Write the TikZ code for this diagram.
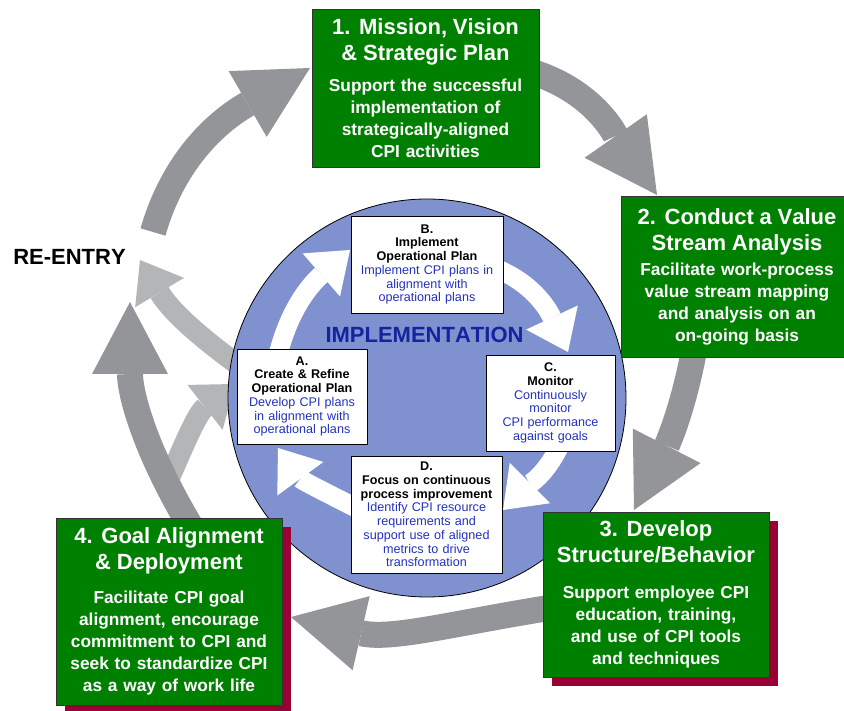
\documentclass[tikz,border=0pt]{standalone}
\usepackage{fontspec}
\setmainfont{Liberation Sans}[Kerning=Off]
\usetikzlibrary{arrows.meta, shadows}

\definecolor{boxgreen}{RGB}{0,128,0}
\definecolor{shadowred}{RGB}{153,0,51}
\definecolor{ringblue}{RGB}{128,145,208}
\definecolor{textblue}{RGB}{35,50,190}
\definecolor{implblue}{RGB}{20,35,160}
\definecolor{darkarrow}{RGB}{147,149,152}
\definecolor{lightarrow}{RGB}{180,181,183}

\newcommand{\ttlfont}{\fontsize{22}{26}\selectfont\bfseries}
\newcommand{\bdyfont}{\fontsize{17.3}{22}\selectfont\bfseries}
\newcommand{\smlfont}{\fontsize{12.6}{13.7}\selectfont}

\begin{document}
\begin{tikzpicture}[x=1pt, y=1pt,
 green box/.style={rectangle, draw=black!80, line width=0.8pt, fill=boxgreen,
   text=white, inner sep=0pt, align=center, font=\bdyfont},
 red shadow/.style={drop shadow={shadow xshift=9pt, shadow yshift=-9pt,
   fill=shadowred, opacity=1}},
 task box/.style={rectangle, draw=black, line width=0.8pt, fill=white,
   inner sep=0pt, align=center, font=\smlfont},
 outer arrow/.style={draw=darkarrow, line width=26pt,
   -{Triangle[length=72pt, width=76pt, line width=0pt]}},
 reentry arrow/.style={draw=lightarrow, line width=21pt,
   -{Triangle[length=38pt, width=57pt, line width=0pt]}},
 inner arrow/.style={draw=white, line width=19pt,
   -{Triangle[length=38pt, width=57pt, line width=0pt]}}]

  \useasboundingbox (0,0) rectangle (844,711);

  % arrow ends
  \coordinate (p1s) at (153,479); \coordinate (p1e) at (310,643);
  \coordinate (p2s) at (525,641); \coordinate (p2e) at (657,516);
  \coordinate (p3s) at (695,366); \coordinate (p3e) at (634,201);
  \coordinate (p4s) at (555,104); \coordinate (p4e) at (291,94);
  \coordinate (p5s) at (191,184); \coordinate (p5e) at (130,409);
  \coordinate (q1s) at (241,344); \coordinate (q1e) at (140,451);
  \coordinate (q2s) at (165,223); \coordinate (q2e) at (235,327);
  \coordinate (w1s) at (278,356); \coordinate (w1e) at (350,461);
  \coordinate (w2s) at (495,443); \coordinate (w2e) at (568,359);
  \coordinate (w3s) at (560,266); \coordinate (w3e) at (503,201);
  \coordinate (w4s) at (360,201); \coordinate (w4e) at (278,263);

  \foreach \s/\t/\a/\b in {q1s/q1e/144/-59, q2s/q2e/66/218} {
   \draw[reentry arrow] (\s) to[out=\a, in=\b] (\t);}

  \foreach \s/\t/\a/\b in {p1s/p1e/74/210, p2s/p2e/-15/125, p3s/p3e/-100/63,
    p4s/p4e/-171/-13, p5s/p5e/121/270} {
   \draw[outer arrow] (\s) to[out=\a, in=\b] (\t);}

  \node[circle, draw=black, line width=0.8pt, fill=ringblue, minimum size=398pt,
    inner sep=0pt] (ring) at (427,313) {};

  \foreach \s/\t/\a/\b in {w1s/w1e/76/221, w2s/w2e/-22/115, w3s/w3e/-115/45,
    w4s/w4e/153/306} {
   \draw[inner arrow] (\s) to[out=\a, in=\b] (\t);}

  \node[task box, minimum width=130pt, minimum height=95pt, text width=130pt]
    (ta) at (302,314.5) {\bfseries A.\\ Create \& Refine\\ Operational Plan\\
    \mdseries\color{textblue}Develop CPI plans\\ in alignment with\\ operational plans};
  \node[task box, minimum width=152pt, minimum height=97pt, text width=152pt]
    (tb) at (427,446.5) {\bfseries B.\\ Implement\\ Operational Plan\\
    \mdseries\color{textblue}Implement CPI plans in\\ alignment with\\ operational plans};
  \node[task box, minimum width=129pt, minimum height=96pt, text width=129pt]
    (tc) at (550.5,308) {\bfseries C.\\ Monitor\\
    \mdseries\color{textblue}Continuously\\ monitor\\ CPI performance\\ against goals};
  \node[task box, minimum width=151pt, minimum height=117pt, text width=151pt]
    (td) at (426.5,196.5) {\bfseries D.\\ Focus on continuous\\ process improvement\\
    \mdseries\color{textblue}Identify CPI resource\\ requirements and\\
    support use of aligned\\ metrics to drive\\ transformation};

  \node[text=implblue, font=\ttlfont] (impl) at (424.5,376) {IMPLEMENTATION};

  \node[green box, minimum width=227pt, minimum height=158pt, text width=227pt]
    (s1) at (425.5,623) {{\ttlfont 1. Mission, Vision}\\[4pt] {\ttlfont \& Strategic Plan}\\[9pt]
    Support the successful\\ implementation of\\ strategically-aligned\\ CPI activities};
  \node[green box, minimum width=232pt, minimum height=161pt, text width=232pt]
    (s2) at (737,434.5) {{\ttlfont 2. Conduct a Value}\\[4pt] {\ttlfont Stream Analysis}\\[3pt]
    Facilitate work-process\\ value stream mapping\\ and analysis on an\\ on-going basis};
  \node[green box, red shadow, minimum width=226pt, minimum height=165pt, text width=226pt]
    (s3) at (656,116.5) {{\ttlfont 3. Develop}\\[4pt] {\ttlfont Structure/Behavior}\\[14pt]
    Support employee CPI\\ education, training,\\ and use of CPI tools\\ and techniques};
  \node[green box, red shadow, minimum width=226pt, minimum height=187pt, text width=226pt]
    (s4) at (169,99.5) {{\ttlfont 4. Goal Alignment}\\[4pt] {\ttlfont \& Deployment}\\[12pt]
    Facilitate CPI goal\\ alignment, encourage\\ commitment to CPI and\\
    seek to standardize CPI\\ as a way of work life};

  \node[font=\ttlfont] (reentry) at (69.5,454) {RE-ENTRY};
\end{tikzpicture}
\end{document}
